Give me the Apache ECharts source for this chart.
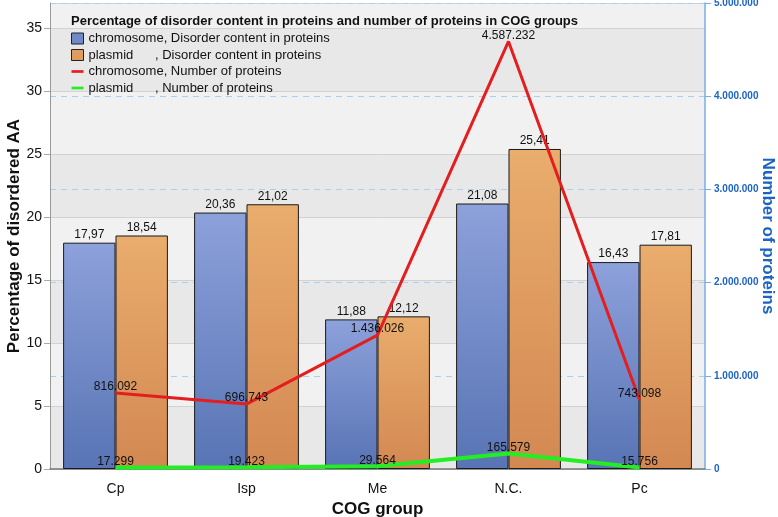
<!DOCTYPE html>
<html>
<head>
<meta charset="utf-8">
<script src="https://cdn.jsdelivr.net/npm/echarts@6/dist/echarts.min.js"></script>
<style>html,body{margin:0;padding:0;background:#fff}#c{width:778px;height:517px}</style>
</head>
<body>
<div id="c"></div>
<script>
var categories = ['Cp', 'Isp', 'Me', 'N.C.', 'Pc'];
var chromDisorder = [17.97, 20.36, 11.88, 21.08, 16.43];
var plasmidDisorder = [18.54, 21.02, 12.12, 25.41, 17.81];
var chromNumber = [816092, 696743, 1436026, 4587232, 743098];
var plasmidNumber = [17299, 19423, 29564, 165579, 15756];
var legendNames = [
  'chromosome, Disorder content in proteins',
  'plasmid      , Disorder content in proteins',
  'chromosome, Number of proteins',
  'plasmid      , Number of proteins'
];

function dots(v) {
  return String(Math.round(v)).replace(/\B(?=(\d{3})+(?!\d))/g, '.');
}
function comma(v) { return v.toFixed(2).replace('.', ','); }

var FONT = 'Liberation Sans, Arial, Helvetica, sans-serif';
var chart = echarts.init(document.getElementById('c'));
var blueGrad = new echarts.graphic.LinearGradient(0, 0, 0, 1, [
  {offset: 0, color: '#8da1db'}, {offset: 1, color: '#5874b4'}]);
var orangeGrad = new echarts.graphic.LinearGradient(0, 0, 0, 1, [
  {offset: 0, color: '#e9ad6d'}, {offset: 1, color: '#d38852'}]);
var lineIcon = 'path://M0 0H20V4.5H0Z';

chart.setOption({
  animation: false,
  textStyle: {fontFamily: FONT},
  title: {
    text: 'Percentage of disorder content in proteins and number of proteins in COG groups',
    left: 66, top: 10,
    textStyle: {fontSize: 13, fontWeight: 'bold', color: '#111', fontFamily: FONT}
  },
  legend: {
    orient: 'vertical', left: 66, top: 27,
    itemWidth: 12, itemHeight: 11, itemGap: 3.5,
    textStyle: {fontSize: 13, color: '#111', fontFamily: FONT, lineHeight: 11},
    data: [
      {name: legendNames[0], icon: 'rect', itemStyle: {color: '#7089c9', borderColor: '#222', borderWidth: 1}},
      {name: legendNames[1], icon: 'rect', itemStyle: {color: '#de9c60', borderColor: '#222', borderWidth: 1}},
      {name: legendNames[2], icon: lineIcon, itemStyle: {color: '#e41e1e'}},
      {name: legendNames[3], icon: lineIcon, itemStyle: {color: '#22ee22'}}
    ]
  },
  grid: {left: 50, right: 73, top: 3, bottom: 48, outerBoundsMode: 'none', containLabel: false},
  xAxis: {
    type: 'category', data: categories,
    name: 'COG group', nameLocation: 'middle', nameGap: 31,
    nameTextStyle: {fontSize: 17, fontWeight: 'bold', color: '#111', fontFamily: FONT},
    axisLine: {lineStyle: {color: '#777', width: 1.5}},
    axisTick: {alignWithLabel: true, length: 6, lineStyle: {color: '#888', width: 1.5}},
    axisLabel: {fontSize: 14, color: '#111', margin: 13}
  },
  yAxis: [{
    type: 'value', min: 0, max: 37, interval: 5,
    name: 'Percentage of disordered AA', nameLocation: 'middle', nameGap: 27, nameMoveOverlap: false,
    nameTextStyle: {fontSize: 17, fontWeight: 'bold', color: '#111', fontFamily: FONT},
    axisLine: {show: true, lineStyle: {color: '#999'}},
    axisTick: {show: true, length: 6, lineStyle: {color: '#aaa'}},
    axisLabel: {fontSize: 14, color: '#111', margin: 8, showMaxLabel: false},
    splitLine: {lineStyle: {color: '#d2d2d2', width: 1}},
    splitArea: {show: true, areaStyle: {color: ['#e8e8e8', '#f1f1f1']}}
  }, {
    type: 'value', min: 0, max: 5000000, interval: 1000000, position: 'right',
    name: 'Number of proteins', nameLocation: 'middle', nameGap: 54, nameRotate: -90, nameMoveOverlap: false,
    nameTextStyle: {fontSize: 17, fontWeight: 'bold', color: '#1c64c4', fontFamily: FONT},
    axisLine: {show: true, lineStyle: {color: '#79aee6', width: 1.5}},
    axisTick: {show: true, length: 6, lineStyle: {color: '#79aee6'}},
    axisLabel: {fontSize: 10, fontWeight: 'bold', color: '#1c64c4', margin: 9, formatter: function (v) { return dots(v); }},
    splitLine: {lineStyle: {color: '#a8d0f4', type: [6, 5], width: 1}}
  }],
  series: [{
    name: legendNames[0], type: 'bar', data: chromDisorder,
    barGap: '0%', barCategoryGap: '20%',
    itemStyle: {color: blueGrad, borderColor: '#1a1a1a', borderWidth: 1},
    label: {show: true, position: 'top', distance: 2, fontSize: 12, color: '#111', formatter: function (p) { return comma(p.value); }}
  }, {
    name: legendNames[1], type: 'bar', data: plasmidDisorder,
    itemStyle: {color: orangeGrad, borderColor: '#1a1a1a', borderWidth: 1},
    label: {show: true, position: 'top', distance: 2, fontSize: 12, color: '#111', formatter: function (p) { return comma(p.value); }}
  }, {
    name: legendNames[2], type: 'line', yAxisIndex: 1, data: chromNumber,
    symbol: 'circle', symbolSize: 0, showSymbol: true, z: 5,
    lineStyle: {color: '#e41e1e', width: 3}, itemStyle: {color: '#e41e1e'},
    label: {show: true, position: 'top', distance: 0, fontSize: 12, color: '#111', formatter: function (p) { return dots(p.value); }}
  }, {
    name: legendNames[3], type: 'line', yAxisIndex: 1, data: plasmidNumber,
    symbol: 'circle', symbolSize: 0, showSymbol: true, z: 5,
    lineStyle: {color: '#22ee22', width: 4}, itemStyle: {color: '#22ee22'},
    label: {show: true, position: 'top', distance: 0, fontSize: 12, color: '#111', formatter: function (p) { return dots(p.value); }}
  }]
});
</script>
</body>
</html>
